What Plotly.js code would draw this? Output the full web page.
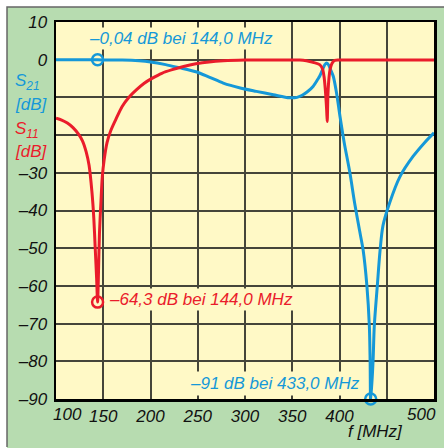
<!DOCTYPE html>
<html><head><meta charset="utf-8">
<script src="https://cdn.plot.ly/plotly-3.0.1.min.js"></script>
<style>html,body{margin:0;padding:0;background:#fff;}#chart{width:444px;height:448px;}</style>
</head><body><div id="chart"></div>
<script>
// S11 (red)
const s11Freq = [100,106,112,118,124,128,132,135,138,140,141.5,143,144,145,146,147.5,149,151,154,158,163,170,177,185,193,202,212,223,235,248,262,277,300,330,358,365,372,379,382,383.6,385,386.4,387,387.8,389,390,392,395,400,450,500];
const s11Val  = [-15.5,-16,-16.8,-18,-19.8,-21.5,-24.5,-28,-35,-42,-50,-58,-64.3,-56,-46,-38,-31,-26.5,-22,-18.8,-16,-12.4,-10,-8,-6.3,-4.9,-3.6,-2.65,-1.8,-1.1,-0.6,-0.3,-0.1,-0.05,-0.1,-0.3,-0.7,-1.3,-2.4,-4.4,-8,-13.3,-16.4,-9,-4.5,-2.6,-1,-0.2,-0.1,-0.05,-0.05];
// S21 (blue)
const s21Freq = [100,144,170,188,200,216,230,248,262,277,295,312,330,347,355,360,366,372,377,379,382.8,384.5,386.5,388.5,390.5,393.4,397,400.5,405,411,416,421,425,429,431.6,432.4,433,435.5,436.8,440,443,446,453,464,478,490,500];
const s21Val  = [0,-0.04,-0.1,-0.3,-0.6,-1.3,-2.1,-3.2,-4.6,-6.2,-7.5,-8.4,-9.3,-10.1,-10,-9.5,-8.5,-7.1,-5.2,-4.4,-2.2,-1.3,-0.9,-1.4,-2.6,-4.4,-9,-15,-22,-30,-38,-45,-50.5,-60,-70.7,-80,-91,-80,-70.7,-60,-50.4,-44,-38,-31,-25.6,-22,-19.4];
// markers (the -91 dB minimum is drawn on the -90 dB bottom edge, as in the original)
const markS21Freq = [144,433], markS21Val = [-0.04,-90];
const markS11Freq = [144], markS11Val = [-64.3];
// ticks
const xTickVals = [150,200,250,300,350,400];
const xTickText = ['150','200','250','300','350','400'];
const xExtraGrid = [450];
const yTickVals = [10,0,-30,-40,-50,-60,-70,-80,-90];
const yTickText = ['10','0','–30','–40','–50','–60','–70','–80','–90'];
const yExtraGrid = [-10,-20];

const BLUE = '#1598d8', RED = '#ea1c2b', YEL = '#fff9c6', GRN = '#b7dcb0', GRID = '#45453a';
const FONT = '"Liberation Sans Narrow","Arial Narrow","Liberation Sans",Arial,sans-serif';
const FS = 17;
const it = s => '<i>' + s + '</i>';

const traces = [
  {x:s21Freq, y:s21Val, mode:'lines', line:{color:BLUE, width:3, shape:'spline', smoothing:0.8}, hoverinfo:'skip'},
  {x:s11Freq, y:s11Val, mode:'lines', line:{color:RED, width:3, shape:'spline', smoothing:0.8}, hoverinfo:'skip'},
  {x:markS21Freq, y:markS21Val, mode:'markers', marker:{symbol:'circle-open', size:11, color:BLUE, line:{width:2.5, color:BLUE}}, cliponaxis:false},
  {x:markS11Freq, y:markS11Val, mode:'markers', marker:{symbol:'circle-open', size:11, color:RED, line:{width:2.5, color:RED}}}
];

const ann = [];
function A(o, c){ann.push(Object.assign({showarrow:false, font:{family:FONT, size:FS, color:c||'#111'}}, o));}
A({x:133, y:5.7, xref:'x', yref:'y', xanchor:'left', yanchor:'middle', text:it('–0,04 dB bei 144,0 MHz'), bgcolor:YEL, borderpad:1}, BLUE);
A({x:154, y:-63.7, xref:'x', yref:'y', xanchor:'left', yanchor:'middle', text:it('–64,3 dB bei 144,0 MHz'), bgcolor:YEL, borderpad:1}, RED);
A({x:238.5, y:-85.9, xref:'x', yref:'y', xanchor:'left', yanchor:'middle', text:it('–91 dB bei 433,0 MHz'), bgcolor:YEL, borderpad:2}, BLUE);
A({x:-0.114, y:-5.8, xref:'paper', yref:'y', xanchor:'left', yanchor:'middle', text:it('S<sub>21</sub>')}, BLUE);
A({x:-0.114, y:-11.8, xref:'paper', yref:'y', xanchor:'left', yanchor:'middle', text:it('[dB]')}, BLUE);
A({x:-0.114, y:-18.6, xref:'paper', yref:'y', xanchor:'left', yanchor:'middle', text:it('S<sub>11</sub>')}, RED);
A({x:-0.114, y:-24.4, xref:'paper', yref:'y', xanchor:'left', yanchor:'middle', text:it('[dB]')}, RED);
A({x:100, y:0, xref:'x', yref:'paper', xanchor:'center', yanchor:'top', xshift:11, yshift:-4, text:it('100')});
A({x:500, y:0, xref:'x', yref:'paper', xanchor:'center', yanchor:'top', xshift:-13, yshift:-4, text:it('500')});
A({x:0.846, y:0, xref:'paper', yref:'paper', xanchor:'center', yanchor:'top', yshift:-21, text:it('f [MHz]')});

const axisCommon = {showgrid:true, gridcolor:GRID, gridwidth:2, showline:true, linecolor:'#000', linewidth:2.5,
  mirror:true, ticks:'', zeroline:false, fixedrange:true, tickfont:{family:FONT, size:FS, color:'#111'}};

const layout = {
  width:444, height:448,
  margin:{l:56, r:10, t:22, b:49, pad:0},
  paper_bgcolor:GRN, plot_bgcolor:YEL,
  showlegend:false,
  font:{family:FONT, size:FS, color:'#111'},
  xaxis:Object.assign({range:[100,500], tickvals:xTickVals, ticktext:xTickText.map(it),
         minor:{tickvals:xExtraGrid, showgrid:true, gridcolor:GRID, gridwidth:2, ticks:''}}, axisCommon),
  yaxis:Object.assign({range:[-90,10], tickvals:yTickVals, ticktext:yTickText.map(it), ticklabelstandoff:3,
         minor:{tickvals:yExtraGrid, showgrid:true, gridcolor:GRID, gridwidth:2, ticks:''}}, axisCommon),
  shapes:[
    {type:'rect', xref:'paper', yref:'paper', x0:-0.16, x1:1.05, y0:1.0398, y1:1.08, fillcolor:'#fff', line:{width:0}, layer:'below'},
    {type:'rect', xref:'paper', yref:'paper', x0:-0.16, x1:-0.1296, y0:-0.15, y1:1.08, fillcolor:'#fff', line:{width:0}, layer:'below'},
    {type:'path', xref:'paper', yref:'paper', path:'M 1.03 1.0398 L -0.1296 1.0398 L -0.1296 -0.1273', line:{color:'#666', width:1.5}, layer:'below'}
  ],
  annotations:ann
};
Plotly.newPlot('chart', traces, layout, {staticPlot:true, displayModeBar:false});
</script></body></html>
